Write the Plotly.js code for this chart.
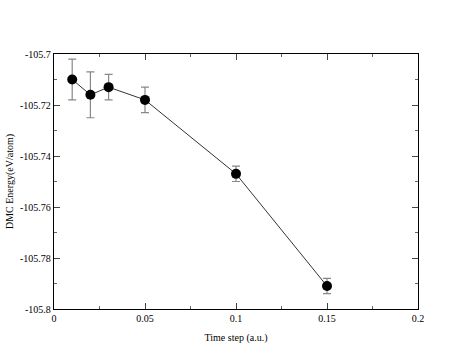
<!DOCTYPE html>
<html>
<head>
<meta charset="utf-8">
<script src="https://cdn.plot.ly/plotly-3.0.1.min.js"></script>
<style>html,body{margin:0;padding:0;background:#fff;}#chart{width:471px;height:364px;}</style>
</head>
<body>
<div id="chart"></div>
<script>
var timeStep = [0.01, 0.02, 0.03, 0.05, 0.1, 0.15];
var energy = [-105.710, -105.716, -105.713, -105.718, -105.747, -105.791];
var errorBars = [0.008, 0.009, 0.005, 0.005, 0.003, 0.003];
var xTickVals = [0, 0.05, 0.1, 0.15, 0.2];
var xTickText = ["0", "0.05", "0.1", "0.15", "0.2"];
var yTickVals = [-105.8, -105.78, -105.76, -105.74, -105.72, -105.7];
var yTickText = ["-105.8", "-105.78", "-105.76", "-105.74", "-105.72", "-105.7"];

function serif(sz) { return {family: "Liberation Serif", size: sz, color: "#000"}; }

var trace = {
  x: timeStep, y: energy, type: "scatter", mode: "lines+markers",
  line: {color: "#333", width: 1},
  marker: {color: "#000", size: 10},
  error_y: {type: "data", array: errorBars, visible: true, color: "#888", thickness: 1.2, width: 4}
};

function axis(extra) {
  var a = {
    showgrid: false, zeroline: false, showline: true, linecolor: "#000", linewidth: 1.2,
    mirror: "ticks", ticks: "inside", ticklen: 6, tickwidth: 1, tickcolor: "#444",
    tickfont: serif(10)
  };
  for (var k in extra) a[k] = extra[k];
  return a;
}

var layout = {
  width: 471, height: 364,
  margin: {l: 54, r: 53, t: 54, b: 55},
  paper_bgcolor: "#fff", plot_bgcolor: "#fff",
  showlegend: false,
  font: serif(10),
  xaxis: axis({
    range: [0, 0.2], tickmode: "array", tickvals: xTickVals, ticktext: xTickText,
    minor: {ticks: "inside", ticklen: 3, dtick: 0.025, tick0: 0, tickcolor: "#666", tickwidth: 1},
    title: {text: "Time step (a.u.)", font: serif(10), standoff: 10}
  }),
  yaxis: axis({
    range: [-105.8, -105.7], tickmode: "array", tickvals: yTickVals, ticktext: yTickText,
    minor: {ticks: "inside", ticklen: 3, dtick: 0.01, tick0: -105.8, tickcolor: "#666", tickwidth: 1},
    title: {text: "DMC Energy(eV/atom)", font: serif(10), standoff: 4}
  })
};

Plotly.newPlot("chart", [trace], layout, {displayModeBar: false, staticPlot: true});
</script>
</body>
</html>
